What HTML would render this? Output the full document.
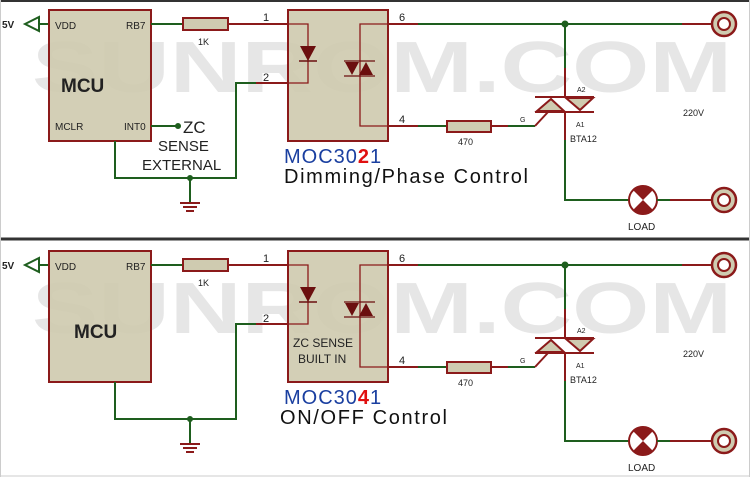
<!DOCTYPE html>
<html><head><meta charset="utf-8"><style>
html,body{margin:0;padding:0;background:#fff;}
svg{display:block;font-family:"Liberation Sans",Arial,sans-serif;}
</style></head><body>
<svg width="750" height="477" viewBox="0 0 750 477" xmlns="http://www.w3.org/2000/svg">
<defs>
<g id="panel">
  <!-- watermark -->
  <text x="32" y="92" font-size="72" font-weight="bold" fill="#e6e6e6" textLength="700" lengthAdjust="spacingAndGlyphs">SUNROM.COM</text>
  <!-- power symbol -->
  <text x="2" y="28" font-size="10" font-weight="bold" fill="#222">5V</text>
  <polygon points="25,24 39,17 39,31" fill="none" stroke="#1e5e1e" stroke-width="2"/>
  <line x1="39" y1="24" x2="49" y2="24" stroke="#1e5e1e" stroke-width="2"/>
  <!-- MCU -->
  <rect x="49" y="10" width="102" height="131" fill="#cfcbb0" fill-opacity="0.92" stroke="#8b1a1a" stroke-width="2"/>
  <text x="55" y="29" font-size="10" fill="#222">VDD</text>
  <text x="126" y="29" font-size="10" fill="#222">RB7</text>
  <!-- RB7 wire -->
  <line x1="151" y1="24" x2="183" y2="24" stroke="#1e5e1e" stroke-width="2"/>
  <rect x="183" y="18" width="45" height="12" fill="#cfcbb0" stroke="#8b1a1a" stroke-width="2"/>
  <text x="198" y="45" font-size="9" fill="#222">1K</text>
  <line x1="228" y1="24" x2="288" y2="24" stroke="#8b1a1a" stroke-width="2"/>
  <text x="263" y="21" font-size="11" fill="#222">1</text>
  <text x="263" y="81" font-size="11" fill="#222">2</text>
  <!-- pin2 wire -->
  <polyline points="288,83 236,83 236,178 115,178 115,141" fill="none" stroke="#1e5e1e" stroke-width="2"/>
  <line x1="256" y1="83" x2="288" y2="83" stroke="#8b1a1a" stroke-width="2"/>
  <circle cx="190" cy="178" r="3" fill="#1e5e1e"/>
  <line x1="190" y1="178" x2="190" y2="202" stroke="#1e5e1e" stroke-width="2"/>
  <line x1="180" y1="203" x2="200" y2="203" stroke="#8b1a1a" stroke-width="2"/>
  <line x1="183" y1="207" x2="197" y2="207" stroke="#8b1a1a" stroke-width="2"/>
  <line x1="186" y1="211" x2="194" y2="211" stroke="#8b1a1a" stroke-width="2"/>
  <!-- MOC -->
  <rect x="288" y="10" width="100" height="131" fill="#cfcbb0" fill-opacity="0.92" stroke="#8b1a1a" stroke-width="2"/>
  <polyline points="288,24 308,24 308,83 288,83" fill="none" stroke="#8b1a1a" stroke-width="1.3"/>
  <polygon points="300,46 316,46 308,61" fill="#6b0f0f"/>
  <line x1="299" y1="61" x2="317" y2="61" stroke="#6b0f0f" stroke-width="1.5"/>
  <polyline points="388,24 360,24 360,126 388,126" fill="none" stroke="#8b1a1a" stroke-width="1.3"/>
  <polygon points="345,62 359,62 352,75" fill="#6b0f0f"/>
  <polygon points="359,75 373,75 366,62" fill="#6b0f0f"/>
  <line x1="344" y1="61" x2="375" y2="61" stroke="#6b0f0f" stroke-width="1.2"/>
  <line x1="344" y1="76" x2="375" y2="76" stroke="#6b0f0f" stroke-width="1.2"/>
  <!-- pin 6 line -->
  <line x1="388" y1="24" x2="418" y2="24" stroke="#8b1a1a" stroke-width="2"/>
  <line x1="418" y1="24" x2="682" y2="24" stroke="#1e5e1e" stroke-width="2"/>
  <line x1="682" y1="24" x2="712" y2="24" stroke="#8b1a1a" stroke-width="2"/>
  <text x="399" y="21" font-size="11" fill="#222">6</text>
  <circle cx="565" cy="24" r="3.5" fill="#1e5e1e"/>
  <circle cx="724" cy="24" r="12" fill="#cfcbb0" stroke="#8b1a1a" stroke-width="2.5"/>
  <circle cx="724" cy="24" r="6" fill="#fff" stroke="#8b1a1a" stroke-width="2"/>
  <!-- pin 4 line -->
  <line x1="388" y1="126" x2="418" y2="126" stroke="#8b1a1a" stroke-width="2"/>
  <line x1="418" y1="126" x2="447" y2="126" stroke="#1e5e1e" stroke-width="2"/>
  <text x="399" y="123" font-size="11" fill="#222">4</text>
  <rect x="447" y="121" width="44" height="11" fill="#cfcbb0" stroke="#8b1a1a" stroke-width="2"/>
  <text x="458" y="145" font-size="9" fill="#222">470</text>
  <line x1="491" y1="126" x2="508" y2="126" stroke="#8b1a1a" stroke-width="2"/>
  <line x1="508" y1="126" x2="535" y2="126" stroke="#1e5e1e" stroke-width="2"/>
  <polyline points="535,126 548,112" fill="none" stroke="#8b1a1a" stroke-width="2"/>
  <text x="520" y="122" font-size="7" fill="#222">G</text>
  <!-- triac -->
  <line x1="565" y1="24" x2="565" y2="68" stroke="#1e5e1e" stroke-width="2"/>
  <line x1="565" y1="68" x2="565" y2="97" stroke="#8b1a1a" stroke-width="2"/>
  <line x1="535" y1="97" x2="594" y2="97" stroke="#8b1a1a" stroke-width="2"/>
  <line x1="535" y1="112" x2="594" y2="112" stroke="#8b1a1a" stroke-width="2"/>
  <polygon points="537,111 551,99 564,111" fill="#cfcbb0" stroke="#8b1a1a" stroke-width="2"/>
  <polygon points="566,98 593,98 580,110" fill="#cfcbb0" stroke="#8b1a1a" stroke-width="2"/>
  <line x1="565" y1="112" x2="565" y2="140" stroke="#8b1a1a" stroke-width="2"/>
  <polyline points="565,140 565,200 630,200" fill="none" stroke="#1e5e1e" stroke-width="2"/>
  <text x="577" y="92" font-size="7" fill="#222">A2</text>
  <text x="576" y="127" font-size="7" fill="#222">A1</text>
  <text x="570" y="142" font-size="9" fill="#222">BTA12</text>
  <text x="683" y="116" font-size="9" fill="#222">220V</text>
  <!-- lamp -->
  <circle cx="643" cy="200" r="14" fill="#fff"/>
  <path d="M643,200 L633,190 A14,14 0 0 1 653,190 Z M643,200 L653,210 A14,14 0 0 1 633,210 Z" fill="#8b1a1a"/>
  <circle cx="643" cy="200" r="14" fill="none" stroke="#8b1a1a" stroke-width="2"/>
  <line x1="657" y1="200" x2="670" y2="200" stroke="#1e5e1e" stroke-width="2"/>
  <line x1="670" y1="200" x2="712" y2="200" stroke="#8b1a1a" stroke-width="2"/>
  <text x="628" y="230" font-size="10" fill="#222">LOAD</text>
  <circle cx="724" cy="200" r="12" fill="#cfcbb0" stroke="#8b1a1a" stroke-width="2.5"/>
  <circle cx="724" cy="200" r="6" fill="#fff" stroke="#8b1a1a" stroke-width="2"/>
</g>
</defs>
<rect x="0" y="0" width="750" height="477" fill="#fff"/>
<line x1="0" y1="1" x2="750" y2="1" stroke="#333" stroke-width="2"/>
<line x1="0" y1="239" x2="750" y2="239" stroke="#333" stroke-width="3"/>
<line x1="0" y1="476" x2="750" y2="476" stroke="#ccc" stroke-width="1"/>
<line x1="0.5" y1="0" x2="0.5" y2="477" stroke="#ccc" stroke-width="1"/>
<line x1="749.5" y1="0" x2="749.5" y2="477" stroke="#ccc" stroke-width="1"/>

<!-- top panel -->
<use href="#panel"/>
<text x="61" y="92" font-size="19" font-weight="bold" fill="#222">MCU</text>
<text x="55" y="130" font-size="10" fill="#222">MCLR</text>
<text x="124" y="130" font-size="10" fill="#222">INT0</text>
<line x1="151" y1="126" x2="178" y2="126" stroke="#1e5e1e" stroke-width="2"/>
<circle cx="178" cy="126" r="3" fill="#1e5e1e"/>
<text x="183" y="133" font-size="17" fill="#222">ZC</text>
<text x="158" y="151" font-size="15" fill="#222">SENSE</text>
<text x="142" y="170" font-size="15" fill="#222">EXTERNAL</text>
<text x="284" y="163" font-size="20" fill="#1a3fa0" letter-spacing="1">MOC30<tspan fill="#e01010" font-weight="bold">2</tspan>1</text>
<text x="284" y="183" font-size="20" fill="#111" textLength="244" lengthAdjust="spacing">Dimming/Phase Control</text>

<!-- bottom panel -->
<g transform="translate(0,241)">
<use href="#panel"/>
<text x="74" y="97" font-size="19" font-weight="bold" fill="#222">MCU</text>
<text x="293" y="106" font-size="12" fill="#222">ZC SENSE</text>
<text x="298" y="122" font-size="12" fill="#222">BUILT IN</text>
<text x="284" y="163" font-size="20" fill="#1a3fa0" letter-spacing="1">MOC30<tspan fill="#e01010" font-weight="bold">4</tspan>1</text>
<text x="280" y="183" font-size="20" fill="#111" textLength="167" lengthAdjust="spacing">ON/OFF Control</text>
</g>
</svg>
</body></html>
